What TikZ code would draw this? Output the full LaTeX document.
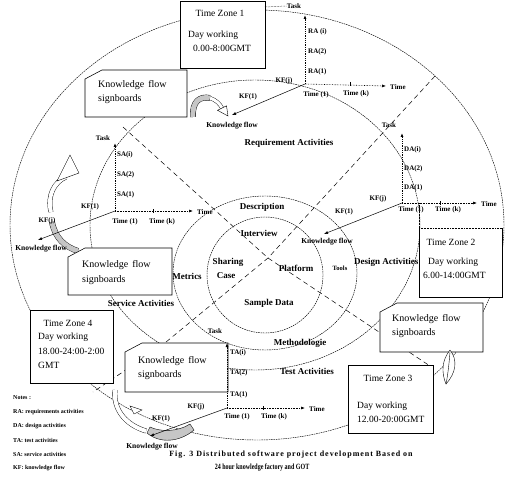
\documentclass[tikz,border=0pt]{standalone}
\usepackage{fontspec}
\setmainfont{Liberation Serif}
\newfontfamily\capfont[LetterSpace=12]{Liberation Serif}
\usetikzlibrary{arrows.meta}
\newcommand\sbshape[4]{\draw[tzbox] ({#1+17},#2) -- (#3,#2) -- (#3,#4) -- (#1,#4) -- (#1,{#2+9}) -- cycle;}
\begin{document}
\begin{tikzpicture}[x=1pt,y=-1pt,
  ring/.style={draw, line width=0.45pt, dash pattern=on 1.6pt off 0.8pt},
  diag/.style={draw, line width=0.5pt, dash pattern=on 5pt off 3.5pt},
  tzbox/.style={draw, fill=white, line width=0.55pt},
  tztext/.style={font=\fontsize{9.5}{11}\selectfont, inner sep=0pt},
  sbtext/.style={font=\fontsize{10}{12}\selectfont, inner sep=0pt, anchor=west},
  lab/.style={font=\fontsize{7}{8}\selectfont\bfseries, inner sep=0pt},
  kflab/.style={font=\fontsize{7.5}{8}\selectfont\bfseries, inner sep=0pt},
  act/.style={font=\fontsize{9}{10}\selectfont\bfseries, inner sep=0pt},
  taskaxis/.style={line width=0.8pt, densely dotted, -{Latex[length=4pt,width=3pt]}},
  timeaxis/.style={line width=0.6pt, densely dotted, -{Latex[length=4pt,width=3pt]}},
  kfline/.style={line width=0.5pt, -{Latex[length=4pt,width=3pt]}},
  note/.style={font=\fontsize{6}{7}\selectfont\bfseries, inner sep=0pt, anchor=west},
  band/.style={line width=0.4pt, double=gray!45, double distance=5pt},
  hollow/.style={line width=0.4pt, double=white, double distance=4pt},
]
\useasboundingbox (0,0) rectangle (510,478);

% rings
\draw[ring] (257,225) ellipse [x radius=247pt, y radius=215pt];
\draw[ring] (255,225) ellipse [x radius=165pt, y radius=145pt];
\draw[ring] (265,273) ellipse [x radius=92pt, y radius=77pt];
\draw[ring] (265,275) circle [radius=58pt];

% diagonals
\coordinate (X) at (268,258);
\coordinate (d1a) at (123,127);
\coordinate (d1b) at (433,368);
\coordinate (d2a) at (435,76);
\coordinate (d2b) at (160,347);
\coordinate (d2c) at (93,392);
\draw[diag] (d1a) -- (X) -- (d1b);
\draw[diag] (d2a) -- (X) -- (d2b) -- (d2c);

% ring labels
\node[act] (lreq) at (289,143) {Requirement Activities};
\node[act] (ldes) at (262,207) {Description};
\node[act] (lint) at (259,233) {Interview};
\node[act] (lsha) at (228,262) {Sharing};
\node[act] (lcas) at (226,276) {Case};
\node[act] (lmet) at (187,276) {Metrics};
\node[act] (lpla) at (296,268) {Platform};
\node[font=\fontsize{6.5}{7}\selectfont\bfseries, inner sep=0pt] (ltoo) at (340,268) {Tools};
\node[act] (lsam) at (269,303) {Sample Data};
\node[act] (lmeth) at (300,343) {Methodologie};
\node[act, anchor=west] (ldesa) at (354,262) {Design Activities};
\node[act] (lser) at (141,303) {Service Activities};
\node[act] (ltes) at (307,371) {Test Activities};

% curved flow arrows (behind boxes where needed)
\draw[band] (52,222) .. controls (55,238) and (65,247) .. (78,251);
\draw[hollow] (51,212) .. controls (47,196) and (54,182) .. (66,177);
\draw[fill=white, line width=0.4pt] (57,181) -- (70,155) -- (79,173) -- cycle;

% Time zone boxes
\node[tzbox, anchor=north west, minimum width=85pt, minimum height=67pt, inner sep=0pt] (tz1) at (180,1) {};
\node[tztext] (tz1a) at (220,13) {Time Zone 1};
\node[tztext, anchor=west] (tz1b) at (188,35) {Day working};
\node[tztext, anchor=west] (tz1c) at (193,48) {0.00-8:00GMT};

\node[tzbox, draw=none, anchor=north west, minimum width=83pt, minimum height=69pt, inner sep=0pt] (tz2) at (419,228) {};
\draw[line width=0.55pt] (419,228) -- (419,297) -- (502,297) -- (502,228);
\draw[line width=0.55pt, densely dotted] (419,228) -- (502,228);
\node[tztext] (tz2a) at (451,242) {Time Zone 2};
\node[tztext, anchor=west] (tz2b) at (428,262) {Day working};
\node[tztext, anchor=west] (tz2c) at (423,275) {6.00-14:00GMT};

\node[tzbox, anchor=north west, minimum width=85pt, minimum height=68pt, inner sep=0pt] (tz3) at (348,365) {};
\node[tztext] (tz3a) at (388,378) {Time Zone 3};
\node[tztext, anchor=west] (tz3b) at (357,406) {Day working};
\node[tztext, anchor=west] (tz3c) at (357,419) {12.00-20:00GMT};

\node[tzbox, anchor=north west, minimum width=83pt, minimum height=73pt, inner sep=0pt] (tz4) at (30,310) {};
\node[tztext] (tz4a) at (68,323) {Time Zone 4};
\node[tztext, anchor=west] (tz4b) at (38,337) {Day working};
\node[tztext, anchor=west] (tz4c) at (38,351) {18.00-24:00-2:00};
\node[tztext, anchor=west] (tz4d) at (38,365) {GMT};

% signboards
\sbshape{85}{70}{187}{117}
\node[sbtext] (sb1a) at (98,85) {Knowledge\hspace{4pt}flow};
\node[sbtext] (sb1b) at (98,99) {signboards};
\sbshape{68}{248}{172}{295}
\node[sbtext] (sb2a) at (82,265) {Knowledge\hspace{4pt}flow};
\node[sbtext] (sb2b) at (82,280) {signboards};
\sbshape{125}{343}{228}{392}
\node[sbtext] (sb3a) at (138,361) {Knowledge\hspace{4pt}flow};
\node[sbtext] (sb3b) at (138,375) {signboards};
\sbshape{380}{303}{483}{352}
\node[sbtext] (sb4a) at (392,319) {Knowledge\hspace{4pt}flow};
\node[sbtext] (sb4b) at (392,333) {signboards};

% top grey arrow
\draw[band] (193,117) .. controls (192,101) and (200,96) .. (210,98);
\draw[line width=0.4pt, double=white, double distance=3pt] (210,98) .. controls (216,100) and (220,104) .. (222,108);
\draw[fill=white, line width=0.4pt] (226.5,105.8) -- (228,116) -- (217.5,110.3) -- cycle;

% bottom arrows
\draw[hollow] (115,390) .. controls (113,410) and (126,425) .. (146,431);
\draw[fill=white, line width=0.4pt] (130,406) -- (142,410) -- (134,414) -- cycle;
\draw[line width=0.4pt, fill=gray!45] (147,433) .. controls (160,444) and (180,442) .. (194,430) -- (190,424) .. controls (178,432) and (160,432) .. (150,427) -- cycle;

% right leaf arrow
\draw[fill=white, line width=0.4pt] (450,350) .. controls (458,360) and (456,373) .. (446,384) .. controls (441,372) and (442,360) .. (450,350);
\draw[line width=0.4pt] (450,352) .. controls (449,364) and (448,374) .. (446,384);

% ---------- axis 1 (RA) ----------
\coordinate (O1) at (305,84);
\coordinate (T1) at (305,15);
\coordinate (H1) at (386,86);
\coordinate (K1) at (232,115);
\coordinate (tz1r) at (265,7);
\draw[taskaxis] (O1) -- (T1);
\draw[timeaxis] (O1) -- (H1);
\draw[kfline] (O1) -- (K1);
\draw[line width=0.4pt] (350,82) -- (350,86);
\node[lab] (task1) at (294,6) {Task};
\draw[densely dotted, line width=0.5pt] (tz1r) -- (task1.west);
\node[lab, anchor=west] (ra3) at (308,32) {RA (i)};
\node[lab, anchor=west] (ra2) at (308,52) {RA(2)};
\node[lab, anchor=west] (ra1) at (308,72) {RA(1)};
\node[lab, anchor=west] (time1) at (390,87) {Time};
\node[lab] (t11) at (316,95) {Time (1)};
\node[lab] (t1k) at (356,94) {Time (k)};
\node[lab] (kfj1) at (284,81) {KF(j)};
\node[lab] (kf11) at (248,97) {KF(1)};
\node[kflab] (kn1) at (232,126) {Knowledge flow};

% ---------- axis 2 (DA) ----------
\coordinate (O2) at (402,203);
\coordinate (T2) at (402,133);
\coordinate (H2) at (477,203);
\coordinate (K2) at (324,234);
\coordinate (Z2a) at (419,203);
\coordinate (Z2b) at (419,228);
\draw[taskaxis] (O2) -- (T2);
\draw[timeaxis] (O2) -- (H2);
\draw[kfline] (O2) -- (K2);
\draw[densely dotted, line width=0.5pt] (Z2a) -- (Z2b);
\draw[line width=0.4pt] (440,201) -- (440,205);
\node[lab] (task2) at (389,125) {Task};
\node[lab, anchor=west] (da3) at (404,150) {DA(i)};
\node[lab, anchor=west] (da2) at (404,169) {DA(2)};
\node[lab, anchor=west] (da1) at (404,188) {DA(1)};
\node[lab, anchor=west] (time2) at (481,204) {Time};
\node[lab] (t21) at (411,210) {Time (1)};
\node[lab] (t2k) at (448,210) {Time (k)};
\node[lab] (kfj2) at (378,199) {KF(j)};
\node[lab] (kf12) at (344,212) {KF(1)};
\node[kflab] (kn2) at (327,242) {Knowledge flow};

% ---------- axis 3 (SA) ----------
\coordinate (O3) at (115,211);
\coordinate (T3) at (115,143);
\coordinate (H3) at (193,211);
\coordinate (K3) at (38,240);
\draw[taskaxis] (O3) -- (T3);
\draw[timeaxis] (O3) -- (H3);
\draw[kfline] (O3) -- (K3);
\draw[line width=0.4pt] (153,209) -- (153,213);
\node[lab] (task3) at (103,138) {Task};
\node[lab, anchor=west] (sa3) at (117,155) {SA(i)};
\node[lab, anchor=west] (sa2) at (117,175) {SA(2)};
\node[lab, anchor=west] (sa1) at (117,195) {SA(1)};
\node[lab, anchor=west] (time3) at (197,212) {Time};
\node[lab] (t31) at (125,222) {Time (1)};
\node[lab] (t3k) at (162,222) {Time (k)};
\node[lab] (kf13) at (90,207) {KF(1)};
\node[lab] (kfj3) at (47,221) {KF(j)};
\node[kflab] (kn3) at (41,249) {Knowledge flow};

% ---------- axis 4 (TA) ----------
\coordinate (O4) at (227,408);
\coordinate (T4) at (227,343);
\coordinate (H4) at (305,408);
\coordinate (K4) at (150,436);
\draw[taskaxis] (O4) -- (T4);
\draw[timeaxis] (O4) -- (H4);
\draw[kfline] (O4) -- (K4);
\draw[line width=0.4pt] (263,406) -- (263,410);
\node[lab] (task4) at (215,331) {Task};
\node[lab, anchor=west] (ta3) at (230,353) {TA(i)};
\node[lab, anchor=west] (ta2) at (230,373) {TA(2)};
\node[lab, anchor=west] (ta1) at (230,395) {TA(1)};
\node[lab, anchor=west] (time4) at (309,409) {Time};
\node[lab] (t41) at (237,417) {Time (1)};
\node[lab] (t4k) at (274,417) {Time (k)};
\node[lab] (kfj4) at (196,407) {KF(j)};
\node[lab] (kf14) at (161,419) {KF(1)};
\node[kflab] (kn4) at (152,447) {Knowledge flow};

% notes
\node[note] (n0) at (13,398) {Notes :};
\node[note] (n1) at (13,412) {RA: requirements activities};
\node[note] (n2) at (13,426) {DA: design activities};
\node[note] (n3) at (13,440) {TA: test activities};
\node[note] (n4) at (13,454) {SA: service activities};
\node[note] (n5) at (13,468) {KF: knowledge flow};

% caption
\node[inner sep=0pt, font=\capfont\bfseries\fontsize{8}{9}\selectfont] (cap1) at (291,455) {Fig. 3 Distributed software project development Based on};
\node[inner sep=0pt, font=\bfseries\fontsize{8}{9}\selectfont] (cap2) at (262,468) {\scalebox{0.75}[1]{24 hour knowledge factory and GOT}};
\end{tikzpicture}
\end{document}
